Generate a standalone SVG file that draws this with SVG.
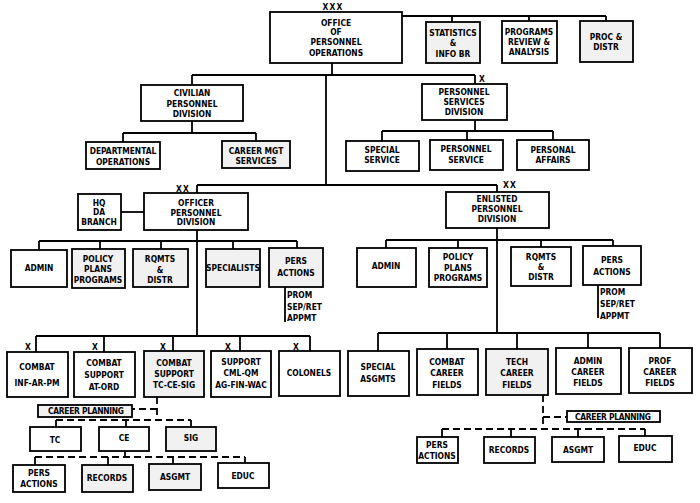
<svg xmlns="http://www.w3.org/2000/svg" width="700" height="503" viewBox="0 0 700 503">
<style>
.b{fill:#fff;stroke:#000;stroke-width:1.8}
.g{fill:#f1f1f1;stroke:#000;stroke-width:1.8}
.c{fill:none;stroke:#000;stroke-width:1.8}
.d{fill:none;stroke:#000;stroke-width:1.8;stroke-dasharray:7,4}
text{font-family:"DejaVu Sans Condensed","Liberation Sans",sans-serif;font-weight:bold;font-size:8.4px;text-anchor:middle;fill:#000}
.l{text-anchor:start}
.s{letter-spacing:1.2px}
</style>
<rect width="700" height="503" fill="#fff"/>
<g id="connectors">
<path class="c" d="M402,16H606M452,16V22M529,16V21M606,16V21"/>
<path class="c" d="M332,63V75M192,75H475M192,75V85M475,75V84M326,75V185"/>
<path class="c" d="M192,121V133M123,133H256M123,133V142M256,133V141"/>
<path class="c" d="M475,120V131M382,131H553M382,131V141M467,131V140M553,131V140"/>
<path class="c" d="M197,185H497M197,185V193M497,185V192"/>
<path class="c" d="M121,212H144"/>
<path class="c" d="M197,230V336M39,241H297M39,241V250M100,241V249M161,241V249M233,241V249M297,241V248"/>
<path class="c" d="M285,287V322"/>
<path class="c" d="M36,336H310M36,336V352M104,336V352M173,336V351M240,336V351M310,336V351"/>
<path class="d" d="M157,397V420M157,409H132M56,420H191"/>
<path class="c" d="M56,420V427M126,420V427M191,420V427"/>
<path class="c" d="M125,451V457"/>
<path class="d" d="M35,457H245"/>
<path class="c" d="M35,457V465M108,457V465M173,457V464M245,457V463"/>
<path class="c" d="M497,228V333M386,240H613M386,240V248M458,240V248M541,240V247M613,240V246"/>
<path class="c" d="M598,285V318"/>
<path class="c" d="M378,333H660M378,333V351M447,333V349M517,333V349M588,333V348M660,333V348"/>
<path class="d" d="M543,395V429M543,417H567M442,429H645"/>
<path class="c" d="M442,429V437M511,429V437M578,429V437M645,429V436"/>
</g>
<g id="office"><text x="333" y="10" class="s">XXX</text><rect class="b" x="270" y="12" width="132" height="51"/><text x="336" y="26">OFFICE</text><text x="336" y="35">OF</text><text x="336" y="45">PERSONNEL</text><text x="336" y="56">OPERATIONS</text></g>
<g id="statistics"><rect class="g" x="426" y="22" width="54" height="41"/><text x="453" y="36">STATISTICS</text><text x="453" y="46">&amp;</text><text x="453" y="57">INFO BR</text></g>
<g id="programs"><rect class="b" x="502" y="21" width="55" height="42"/><text x="529" y="35">PROGRAMS</text><text x="529" y="45">REVIEW &amp;</text><text x="529" y="55">ANALYSIS</text></g>
<g id="proc"><rect class="g" x="580" y="21" width="53" height="41"/><text x="606" y="40">PROC &amp;</text><text x="606" y="50">DISTR</text></g>
<g id="civilian"><rect class="b" x="141" y="85" width="102" height="36"/><text x="192" y="96">CIVILIAN</text><text x="192" y="107">PERSONNEL</text><text x="192" y="117">DIVISION</text></g>
<g id="departmental"><rect class="b" x="86" y="142" width="74" height="27"/><text x="123" y="154">DEPARTMENTAL</text><text x="123" y="165">OPERATIONS</text></g>
<g id="careermgt"><rect class="g" x="222" y="141" width="68" height="27"/><text x="256" y="154">CAREER MGT</text><text x="256" y="164">SERVICES</text></g>
<g id="psd"><text x="482" y="82">X</text><rect class="b" x="422" y="84" width="85" height="36"/><text x="464" y="95">PERSONNEL</text><text x="464" y="105">SERVICES</text><text x="464" y="115">DIVISION</text></g>
<g id="specialservice"><rect class="b" x="346" y="141" width="73" height="30"/><text x="382" y="153">SPECIAL</text><text x="382" y="163">SERVICE</text></g>
<g id="personnelservice"><rect class="b" x="430" y="140" width="73" height="30"/><text x="466" y="152">PERSONNEL</text><text x="466" y="163">SERVICE</text></g>
<g id="personalaffairs"><rect class="b" x="517" y="140" width="72" height="30"/><text x="553" y="153">PERSONAL</text><text x="553" y="163">AFFAIRS</text></g>
<g id="hqda"><rect class="b" x="78" y="194" width="43" height="36"/><text x="99" y="206">HQ</text><text x="99" y="215">DA</text><text x="99" y="225">BRANCH</text></g>
<g id="officer"><text x="183" y="192" class="s">XX</text><rect class="b" x="144" y="193" width="104" height="37"/><text x="196" y="206">OFFICER</text><text x="196" y="216">PERSONNEL</text><text x="196" y="225">DIVISION</text></g>
<g id="o-admin"><rect class="b" x="11" y="250" width="56" height="37"/><text x="39" y="271">ADMIN</text></g>
<g id="o-policy"><rect class="g" x="72" y="249" width="53" height="39"/><text x="98" y="262">POLICY</text><text x="98" y="272">PLANS</text><text x="98" y="283">PROGRAMS</text></g>
<g id="o-rqmts"><rect class="g" x="133" y="249" width="55" height="38"/><text x="160" y="262">RQMTS</text><text x="160" y="273">&amp;</text><text x="160" y="283">DISTR</text></g>
<g id="o-specialists"><rect class="g" x="206" y="249" width="54" height="38"/><text x="233" y="271">SPECIALISTS</text></g>
<g id="o-pers"><rect class="g" x="269" y="248" width="54" height="39"/><text x="296" y="264">PERS</text><text x="296" y="276">ACTIONS</text><text x="287" y="298" class="l">PROM</text><text x="287" y="310" class="l">SEP/RET</text><text x="287" y="321" class="l">APPMT</text></g>
<g id="enlisted"><text x="510" y="188" class="s">XX</text><rect class="b" x="446" y="192" width="103" height="36"/><text x="497" y="202">ENLISTED</text><text x="497" y="212">PERSONNEL</text><text x="497" y="222">DIVISION</text></g>
<g id="e-admin"><rect class="b" x="357" y="248" width="59" height="39"/><text x="386" y="269">ADMIN</text></g>
<g id="e-policy"><rect class="b" x="429" y="248" width="58" height="39"/><text x="458" y="260">POLICY</text><text x="458" y="271">PLANS</text><text x="458" y="281">PROGRAMS</text></g>
<g id="e-rqmts"><rect class="b" x="511" y="247" width="60" height="39"/><text x="541" y="260">RQMTS</text><text x="541" y="270">&amp;</text><text x="541" y="280">DISTR</text></g>
<g id="e-pers"><rect class="b" x="583" y="246" width="58" height="39"/><text x="612" y="263">PERS</text><text x="612" y="275">ACTIONS</text><text x="600" y="295" class="l">PROM</text><text x="600" y="307" class="l">SEP/RET</text><text x="600" y="319" class="l">APPMT</text></g>
<g id="combat"><text x="28" y="350">X</text><rect class="b" x="7" y="352" width="61" height="45"/><text x="37" y="370">COMBAT</text><text x="37" y="386">INF-AR-PM</text></g>
<g id="combatsupport1"><text x="95" y="350">X</text><rect class="b" x="74" y="352" width="61" height="45"/><text x="104" y="366">COMBAT</text><text x="104" y="378">SUPPORT</text><text x="104" y="390">AT-ORD</text></g>
<g id="combatsupport2"><text x="163" y="350">X</text><rect class="g" x="144" y="351" width="60" height="46"/><text x="174" y="366">COMBAT</text><text x="174" y="377">SUPPORT</text><text x="174" y="388">TC-CE-SIG</text></g>
<g id="support"><text x="228" y="350">X</text><rect class="b" x="211" y="351" width="60" height="46"/><text x="241" y="365">SUPPORT</text><text x="241" y="376">CML-QM</text><text x="241" y="388">AG-FIN-WAC</text></g>
<g id="colonels"><text x="296" y="350">X</text><rect class="b" x="279" y="351" width="61" height="45"/><text x="309" y="376">COLONELS</text></g>
<g id="o-careerplanning"><rect class="g" x="38" y="405" width="94" height="12"/><text x="86" y="414" textLength="76" lengthAdjust="spacing">CAREER  PLANNING</text></g>
<g id="tc"><rect class="b" x="30" y="427" width="51" height="24"/><text x="55" y="443">TC</text></g>
<g id="ce"><rect class="b" x="99" y="427" width="50" height="24"/><text x="124" y="441">CE</text></g>
<g id="sig"><rect class="g" x="166" y="427" width="50" height="24"/><text x="191" y="441">SIG</text></g>
<g id="o-persactions"><rect class="b" x="13" y="465" width="52" height="27"/><text x="39" y="476">PERS</text><text x="39" y="487">ACTIONS</text></g>
<g id="o-records"><rect class="g" x="82" y="465" width="51" height="27"/><text x="107" y="481">RECORDS</text></g>
<g id="o-asgmt"><rect class="g" x="149" y="464" width="52" height="26"/><text x="175" y="480">ASGMT</text></g>
<g id="o-educ"><rect class="b" x="218" y="463" width="51" height="25"/><text x="243" y="479">EDUC</text></g>
<g id="specialasgmts"><rect class="b" x="348" y="351" width="61" height="45"/><text x="378" y="370">SPECIAL</text><text x="378" y="382">ASGMTS</text></g>
<g id="combatcareer"><rect class="b" x="417" y="349" width="61" height="46"/><text x="447" y="365">COMBAT</text><text x="447" y="376">CAREER</text><text x="447" y="388">FIELDS</text></g>
<g id="techcareer"><rect class="g" x="486" y="349" width="62" height="46"/><text x="517" y="365">TECH</text><text x="517" y="376">CAREER</text><text x="517" y="388">FIELDS</text></g>
<g id="admincareer"><rect class="b" x="556" y="348" width="65" height="46"/><text x="588" y="364">ADMIN</text><text x="588" y="375">CAREER</text><text x="588" y="386">FIELDS</text></g>
<g id="profcareer"><rect class="b" x="629" y="348" width="63" height="45"/><text x="660" y="364">PROF</text><text x="660" y="375">CAREER</text><text x="660" y="386">FIELDS</text></g>
<g id="e-careerplanning"><rect class="b" x="567" y="411" width="93" height="11"/><text x="613" y="420" textLength="76" lengthAdjust="spacing">CAREER  PLANNING</text></g>
<g id="e-persactions"><rect class="b" x="417" y="437" width="41" height="26"/><text x="437" y="448">PERS</text><text x="437" y="459">ACTIONS</text></g>
<g id="e-records"><rect class="b" x="484" y="437" width="51" height="26"/><text x="509" y="453">RECORDS</text></g>
<g id="e-asgmt"><rect class="b" x="552" y="437" width="52" height="25"/><text x="578" y="453">ASGMT</text></g>
<g id="e-educ"><rect class="b" x="619" y="436" width="53" height="26"/><text x="645" y="451">EDUC</text></g>
</svg>
